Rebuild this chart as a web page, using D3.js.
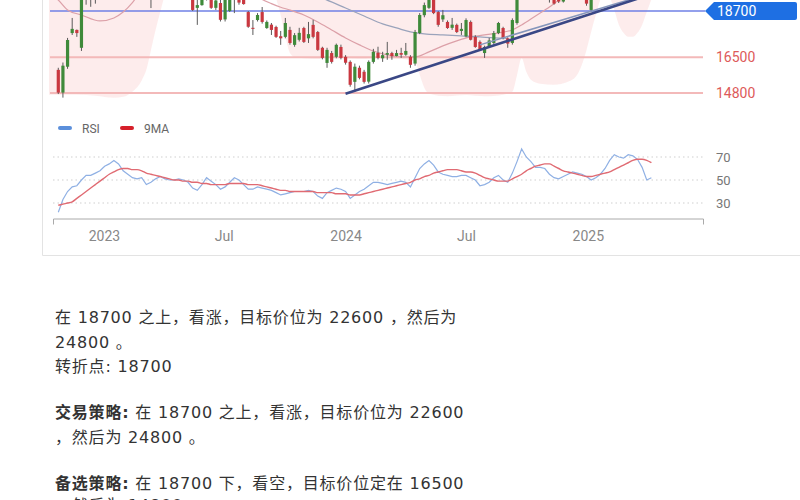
<!DOCTYPE html>
<html><head><meta charset="utf-8">
<script src="https://cdn.jsdelivr.net/npm/d3@7"></script>
<style>
html,body{margin:0;padding:0;background:#fff;}
svg{display:block;}
</style></head>
<body>
<svg id="c" width="800" height="500"></svg>
<script>
// ---------- DATA ----------
const firstWeek = new Date(2022, 9, 24); // weekly candles start
const opens  = [15900,14820,16050,17650,17800,16950,19400,19900,20300,20500,20800,21200,21500,21800,21000,20600,20300,20100,20300,19700,19900,19600,20000,20200,19900,20000,19900,20000,19600,19350,18850,18980,19400,19500,18850,19080,18300,18700,19500,19300,19250,18650,17900,18270,18650,17890,18050,17940,17500,17470,17800,17090,17330,17890,17400,18040,17700,16950,16230,16700,16520,16990,16520,16280,15330,16000,15810,15340,16280,16710,16450,16620,16700,16560,16700,16620,16520,16200,17650,18500,18850,19400,18650,18300,18180,17900,18040,17750,17500,18180,17470,17230,16700,17000,17180,17650,17890,17400,17180,18130,19300,20200,20000,19700,20000,19800,19500,19300,19400,19150,19700,19900,20100,19700,19400,18750,19400,19800,20200,20700,21200,21500,21300,21600,21900,21700,21200,20500,19800];
const highs  = [16000,16250,17420,18370,17820,19600,20200,20500,20700,21000,21400,21700,22000,21900,21300,20900,20700,20600,20500,20100,20300,20200,20400,20300,20200,20300,20200,20100,19800,19500,19300,19500,19700,19600,19300,19300,19400,19700,19800,19500,19400,18700,18270,18600,18890,18250,18130,18000,17750,18370,17950,17650,17900,17950,18180,18280,17750,17000,16950,16800,17150,17100,16600,16350,16200,16100,15900,16350,16900,17000,16760,17230,16760,16850,16950,17180,16600,17800,18600,19100,19600,19500,18700,18750,18250,18370,18100,18130,18350,18250,17550,17300,17050,17420,17750,18180,17950,17450,18350,19500,20500,20600,20400,20200,20500,20000,19800,19500,19600,19800,20100,20300,20200,19900,19500,19600,19900,20300,20800,21300,21700,21700,21800,22100,22200,21900,21400,20700,20200];
const lows   = [14750,14580,15950,17560,17470,16800,19000,18900,19050,20100,20500,20900,21100,20800,20400,20000,19900,19800,19500,19400,18840,19400,19700,19600,19600,19700,19500,19400,19250,18700,18040,18950,19200,18800,18750,18200,18200,18650,18600,19000,19000,17900,17560,18200,18100,17850,17560,17420,17090,17400,17100,17000,17250,17180,17180,17400,16800,16400,16000,16200,16450,16400,16150,15100,14860,15450,15250,15250,16200,16400,16280,16380,16380,16540,16470,16570,16000,16100,17600,18400,18800,18550,17950,18180,17850,17800,17650,17560,17450,17300,16950,16800,16470,16950,17100,17600,17350,16950,17100,18050,19250,19800,19500,19400,19600,19300,19100,19000,19080,19100,19500,19700,19600,19300,18950,18650,19300,19700,20100,20500,21000,21100,21200,21400,21500,21000,20300,19600,19700];
const closes = [14820,16100,17320,17850,17650,19400,19900,20300,20500,20800,21200,21500,21800,21000,20600,20300,20100,20300,19700,19900,19600,20000,20200,19900,20000,19900,20000,19600,19350,18750,18980,19400,19500,18850,19200,18280,19300,19500,19300,19100,19030,17950,17850,18510,18180,18180,17800,17470,17400,18130,17180,17550,17660,17230,17600,17470,16850,16470,16850,16280,17090,16470,16240,15190,16050,15520,15330,16280,16760,16470,16600,16700,16550,16700,16620,16800,16140,17700,18510,18980,19400,18600,18040,18500,17890,18050,17700,17850,18270,17330,16990,16850,16990,17300,17650,18130,17420,17150,18270,19300,20200,20000,19700,20000,19800,19500,19300,19050,19150,19700,19900,20100,19700,19400,19050,19400,19800,20200,20700,21200,21500,21300,21600,21900,21700,21200,20500,19800,20000];

const rsiValues = [22,33,40,44,45,50,54,54,56,58,62,64,67,64,58,55,52,51,52,46,48,51,53,51,50,50,51,50,48,43,41,46,52,49,46,42,44,48,52,50,46,42,42,44,43,42,41,39,37,38,39,40,40,40,41,40,36,34,39,41,43,42,40,34,37,40,42,45,48,48,47,46,47,48,49,48,44,52,60,64,67,63,57,55,54,53,53,54,54,52,50,45,46,48,52,54,50,48,56,66,77,70,66,61,61,60,55,52,51,53,55,57,56,55,53,50,52,55,60,67,72,70,69,72,71,68,61,50,52];
const rsiMA = [28,29,30,31,34,37,40,43,46,49,52,55,57,59,60,60,59,59,58,56,55,54,53,52,51,50,50,49,49,48,48,47,47,46,46,46,46,47,47,47,47,46,46,46,45,44,43,42,41,41,40,40,40,40,40,40,39,39,39,39,38,38,38,37,37,37,38,39,40,41,42,43,44,45,46,47,48,50,51,53,54,56,57,58,59,59,59,58,57,57,56,54,52,51,50,49,49,49,51,53,55,58,60,62,63,64,64,62,60,58,57,56,55,54,53,53,54,55,56,57,59,61,63,65,67,68,68,67,65];

const cloudWeeks = [-2,0,4,8,12,14,16,18,19,20,21,22,23,24,46,47,48,49,50,51,55,60,65,70,74,77,78,79,80,84,88,92,96,98,99,100,101,102,104,107,110,112,113,114,115,116,117,118,119,120,121,122,123,124,125,126,127,128];
const cloudLower = [14720,14720,14720,14670,14575,14620,14860,15400,15900,16850,17800,18650,19460,19900,19900,19300,18500,17500,16700,16500,16430,16480,16420,16470,16430,16280,15670,15050,14770,14650,14700,14640,14720,14860,15650,16470,15810,15430,15240,15190,15335,15670,16140,16850,17700,18510,19250,19600,19350,18750,18040,17660,17470,17470,17660,18040,18650,19250];
const cloudUpper = [21500,21500,21600,21800,22000,22000,22000,22000,22000,22000,22000,22000,22000,22000,22000,22000,22000,22000,22000,22000,22000,22000,22000,22000,22000,22000,22000,22000,22000,22000,22000,22000,22000,22000,22000,22000,22000,22000,22000,22000,22000,22000,22000,22000,22000,22000,22000,22000,22000,22000,22000,22000,22000,22000,22000,22000,22000,22000];

const lineAWeeks  = [-1,0,2,5,9,12,14,16,18,22,30,40,44,46,48,50,53,56,59,62,65,68,71,74,77,80,83,86,89,92,95,98,100,103,106,108,110,115,120,128];
const lineAValues = [19400,19221,18750,18510,18226,18370,18650,19100,19700,20200,20300,20000,19250,19050,18880,18747,18510,18180,17800,17420,17090,16800,16614,16520,16520,16757,17040,17280,17470,17560,17657,17800,18036,18463,18890,19221,19500,19900,20300,20800];

const lineBWeeks  = [50,55,58,62,66,70,73,76,79,83,87,91,94,97];
const lineBValues = [20000,19460,19221,18842,18463,18084,17894,17705,17610,17562,17515,17468,17420,17400];

const trendWeeks  = [62,128];
const trendValues = [14766,19500];
const trend2Weeks  = [91,127];
const trend2Values = [17088,19490];

const levelMain = 18700;
const levelsLow = [16500,14800];
const rsiTicks = [30,50,70];
const timeTicks = [new Date(2023,0,1),new Date(2023,6,1),new Date(2024,0,1),new Date(2024,6,1),new Date(2025,0,1)];
const timeTickLabels = ["2023","Jul","2024","Jul","2025"];
const legendLabels = ["RSI","9MA"];

const textRows = [
  ["", "在 18700 之上，看涨，目标价位为 22600 ，然后为"],
  ["", "24800 。"],
  ["", "转折点: 18700"],
  ["交易策略:", " 在 18700 之上，看涨，目标价位为 22600"],
  ["", "，然后为 24800 。"],
  ["备选策略:", " 在 18700 下，看空，目标价位定在 16500"],
  ["", "，然后为 14800 。"]
];

// ---------- DRAW ----------
const svg = d3.select("#c");
const weekDate = i => d3.timeDay.offset(firstWeek, Math.round(i * 7));
const x = d3.scaleTime().domain([new Date(2022,9,16), new Date(2025,5,24)]).range([53, 703]);
const y = d3.scaleLinear().domain([14800, 18700]).range([93, 11]);
const yR = d3.scaleLinear().domain([30, 70]).range([203, 157]);

// card border
svg.append("path").attr("d", "M42.5,0V255.5H800").attr("fill","none").attr("stroke","#e3e3e3");

// cloud
const cloud = cloudWeeks.map((w,i)=>({w, lo: cloudLower[i], hi: cloudUpper[i]}));
svg.append("path").datum(cloud)
  .attr("d", d3.area().x(d=>x(weekDate(d.w))).y0(d=>y(d.lo)).y1(d=>y(d.hi)).curve(d3.curveMonotoneX))
  .attr("fill", "rgba(240,110,110,0.13)");

// level lines
levelsLow.forEach(v=>{
  svg.append("line").attr("x1",50).attr("x2",703).attr("y1",y(v)).attr("y2",y(v))
    .attr("stroke","#f3b9b9").attr("stroke-width",2);
});
svg.append("line").attr("x1",50).attr("x2",705).attr("y1",y(levelMain)).attr("y2",y(levelMain))
  .attr("stroke","#6f80e6").attr("stroke-width",1.5);

// indicator lines
const lineGen = d3.line().x(d=>x(weekDate(d[0]))).y(d=>y(d[1])).curve(d3.curveMonotoneX);
svg.append("path").datum(lineAWeeks.map((w,i)=>[w,lineAValues[i]]))
  .attr("d", lineGen).attr("fill","none").attr("stroke","#dca0a8").attr("stroke-width",1.2);
svg.append("path").datum(lineBWeeks.map((w,i)=>[w,lineBValues[i]]))
  .attr("d", lineGen).attr("fill","none").attr("stroke","#9aa3bb").attr("stroke-width",1.3);

// candles
const candles = opens.map((o,i)=>({i, o, h: highs[i], l: lows[i], c: closes[i]}));
const cg = svg.append("g");
cg.selectAll("line").data(candles).join("line")
  .attr("x1", d=>x(weekDate(d.i))).attr("x2", d=>x(weekDate(d.i)))
  .attr("y1", d=>y(d.h)).attr("y2", d=>y(d.l))
  .attr("stroke", "#5a5a5a").attr("stroke-width", 1);
cg.selectAll("rect").data(candles).join("rect")
  .attr("x", d=>x(weekDate(d.i))-1.6).attr("width", 3.2)
  .attr("y", d=>y(Math.max(d.o,d.c)))
  .attr("height", d=>Math.max(1, Math.abs(y(d.o)-y(d.c))))
  .attr("fill", d=>d.c>=d.o ? "#3f8a3a" : "#c93840");

// trendlines
const tl = d3.line().x(d=>x(weekDate(d[0]))).y(d=>y(d[1]));
svg.append("path").datum(trend2Weeks.map((w,i)=>[w,trend2Values[i]]))
  .attr("d", tl).attr("stroke","#8596bb").attr("stroke-width",1.5).attr("fill","none");
svg.append("path").datum(trendWeeks.map((w,i)=>[w,trendValues[i]]))
  .attr("d", tl).attr("stroke","#3a4785").attr("stroke-width",2.6).attr("fill","none");

// price labels
const yM = y(levelMain);
svg.append("path").attr("d", `M705,${yM}L714,${yM-9}H795Q797,${yM-9} 797,${yM-7}V${yM+7}Q797,${yM+9} 795,${yM+9}H714Z`)
  .attr("fill","#1e6fe3");
svg.append("text").attr("x",717).attr("y",yM+5).text(levelMain)
  .attr("fill","#fff").attr("font-family","Roboto, Arial, sans-serif").attr("font-size",14);
levelsLow.forEach(v=>{
  svg.append("text").attr("x",716).attr("y",y(v)+5).text(v)
    .attr("fill","#dd5a5a").attr("font-family","Roboto, Arial, sans-serif").attr("font-size",14);
});

// RSI legend
const legColors = ["#5b8fdb","#d6202a"];
const legX = [58,120];
legendLabels.forEach((t,i)=>{
  svg.append("rect").attr("x",legX[i]).attr("y",126).attr("width",14).attr("height",4).attr("rx",2).attr("fill",legColors[i]);
  svg.append("text").attr("x",legX[i]+24).attr("y",132.5).text(t)
    .attr("fill","#666").attr("font-family","Roboto, Arial, sans-serif").attr("font-size",12);
});

// RSI grid
rsiTicks.forEach(v=>{
  svg.append("line").attr("x1",53).attr("x2",703).attr("y1",yR(v)).attr("y2",yR(v))
    .attr("stroke","#cfcfcf").attr("stroke-width",1.2).attr("stroke-dasharray","1.5,3");
  svg.append("text").attr("x",716).attr("y",yR(v)+5).text(v)
    .attr("fill","#777").attr("font-family","Roboto, Arial, sans-serif").attr("font-size",13);
});

// RSI lines
const rl = d3.line().x((d,i)=>x(weekDate(i))).y(d=>yR(d));
svg.append("path").datum(rsiValues).attr("d", rl).attr("fill","none")
  .attr("stroke","#8fb0e4").attr("stroke-width",1.2);
svg.append("path").datum(rsiMA).attr("d", rl.curve(d3.curveMonotoneX)).attr("fill","none")
  .attr("stroke","#e06a72").attr("stroke-width",1.4);

// time axis
const ax = svg.append("g").attr("transform","translate(0,218.5)")
  .call(d3.axisBottom(x).tickValues(timeTicks).tickFormat((d,i)=>timeTickLabels[i])
        .tickSizeInner(0).tickSizeOuter(6).tickPadding(13));
ax.select(".domain").attr("stroke","#aaa");
ax.selectAll("text").attr("fill","#888").attr("font-family","Roboto, Arial, sans-serif").attr("font-size",14);

// text block
const baselines = [323, 347.5, 372, 418, 443, 489, 511];
const tg = svg.append("g").attr("font-family","'DejaVu Sans', 'Noto Sans CJK SC', sans-serif")
  .attr("font-size",16).attr("fill","#333");
textRows.forEach((r,i)=>{
  const t = tg.append("text").attr("x",55).attr("y",baselines[i]).attr("letter-spacing","0.8px")
    .attr("xml:space","preserve");
  if (r[0]) t.append("tspan").attr("font-weight","bold").text(r[0]);
  t.append("tspan").text(r[1]);
});
</script>
</body></html>
